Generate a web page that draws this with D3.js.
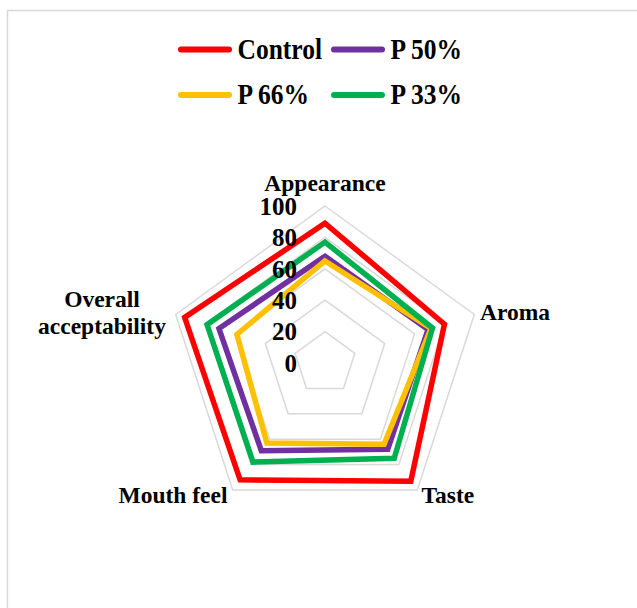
<!DOCTYPE html>
<html lang="en">
<head>
    <meta charset="UTF-8">
    <title>Sensory radar chart</title>
    <script src="https://d3js.org/d3.v7.min.js"></script>
    <style>
        body { margin: 0; background: #fff; }
        text { font-family: "Liberation Serif", "Times New Roman", serif; font-weight: bold; fill: #000; }
        .grid { fill: none; stroke: #d9d9d9; stroke-width: 1.5; }
        .series { fill: none; stroke-width: 5.5; stroke-linejoin: miter; }
    </style>
</head>
<body>
    <svg id="chart" width="637" height="608"></svg>

    <script>
        // Data
        var attributes = ["Appearance", "Aroma", "Taste", "Mouth feel", "Overall acceptability"];
        var seriesNames = ["Control", "P 50%", "P 66%", "P 33%"];
        var control = [89, 80, 93, 92, 94];
        var p50 = [68, 69, 68, 69, 71];
        var p66 = [65, 71, 64, 63, 59];
        var p33 = [77, 72, 75, 78, 79];
        var ticks = [0, 20, 40, 60, 80, 100];
        var colors = ["#ff0000", "#7030a0", "#ffc000", "#00b050"];

        var allSeries = [control, p50, p66, p33];

        var svg = d3.select("#chart");

        // outer frame
        svg.append("rect")
            .attr("x", 7.5).attr("y", 10.5)
            .attr("width", 700).attr("height", 700)
            .attr("fill", "none").attr("stroke", "#d9d9d9").attr("stroke-width", 1.5);

        var cx = 325, cy = 363;
        var r = d3.scaleLinear().domain([0, 100]).range([0, 157]);
        var step = 2 * Math.PI / attributes.length;

        var g = svg.append("g").attr("transform", "translate(" + cx + "," + cy + ")");

        var radar = d3.lineRadial()
            .angle((d, i) => i * step)
            .radius(d => r(d))
            .curve(d3.curveLinearClosed);

        // grid rings
        g.selectAll(".grid")
            .data(ticks.filter(t => t > 0))
            .enter().append("path")
            .attr("class", "grid")
            .attr("d", t => radar(attributes.map(() => t)));

        // series
        g.selectAll(".series")
            .data(allSeries)
            .enter().append("path")
            .attr("class", "series")
            .attr("stroke", (d, i) => colors[i])
            .attr("d", d => radar(d));

        // tick labels
        g.selectAll(".tick")
            .data(ticks)
            .enter().append("text")
            .attr("x", -28)
            .attr("y", t => -r(t))
            .attr("dy", "0.35em")
            .attr("text-anchor", "end")
            .style("font-size", "25px")
            .text(t => t);

        // axis labels
        var labelPos = [
            { x: 325, y: 190.5, anchor: "middle" },
            { x: 480, y: 320, anchor: "start" },
            { x: 421.5, y: 503, anchor: "start" },
            { x: 227.5, y: 503, anchor: "end" },
            { x: 102, y: 306.5, anchor: "middle" }
        ];
        attributes.forEach(function(name, i) {
            var t = svg.append("text")
                .attr("x", labelPos[i].x)
                .attr("y", labelPos[i].y)
                .attr("text-anchor", labelPos[i].anchor)
                .style("font-size", "23.5px");
            if (name === "Overall acceptability") {
                t.append("tspan").attr("x", labelPos[i].x).text("Overall");
                t.append("tspan").attr("x", labelPos[i].x).attr("dy", 27.5).text("acceptability");
            } else {
                t.text(name);
            }
        });

        // legend
        var legendPos = [
            { x: 181, y: 49.5 }, { x: 334, y: 49.5 },
            { x: 181, y: 95 }, { x: 334, y: 95 }
        ];
        seriesNames.forEach(function(name, i) {
            var p = legendPos[i];
            svg.append("line")
                .attr("x1", p.x).attr("x2", p.x + 48)
                .attr("y1", p.y).attr("y2", p.y)
                .attr("stroke", colors[i]).attr("stroke-width", 6)
                .attr("stroke-linecap", "round");
            svg.append("text")
                .attr("transform", "translate(" + (p.x + 56.5) + "," + (p.y + 9) + ") scale(1,1.12)")
                .style("font-size", "25.5px")
                .text(name);
        });
    </script>
</body>
</html>
